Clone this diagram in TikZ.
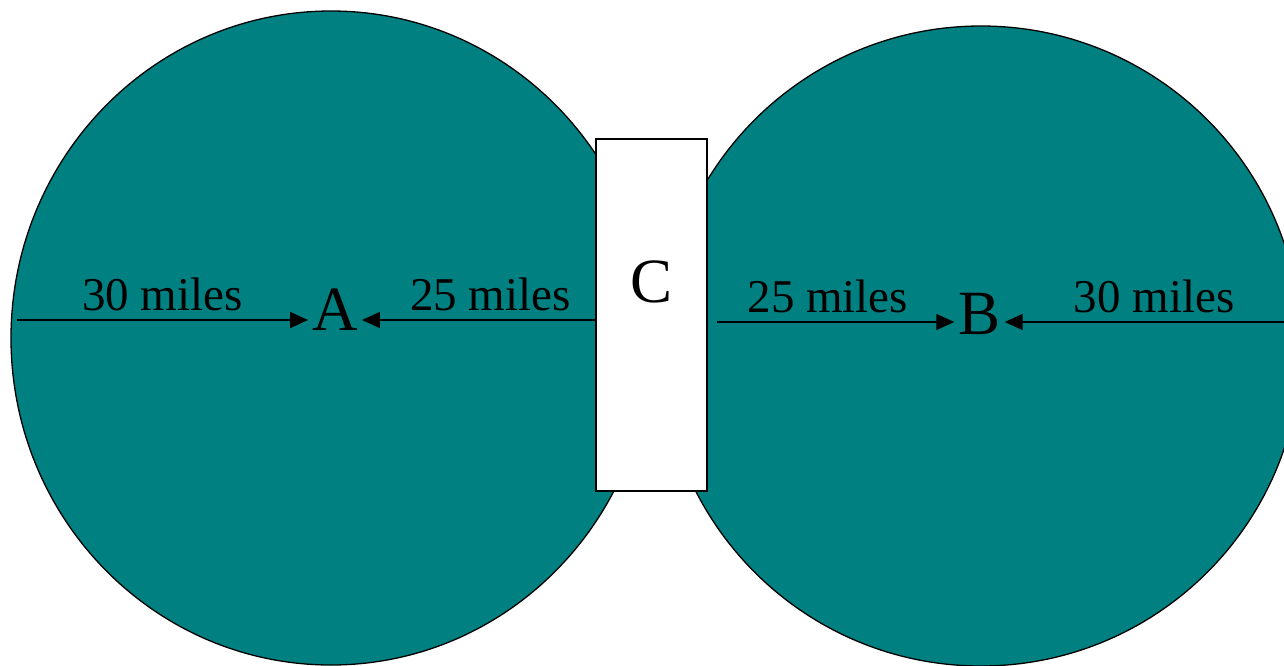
\documentclass[tikz,border=0pt]{standalone}
\usepackage{fontspec}
\setmainfont{Liberation Serif}
\usetikzlibrary{
    positioning,                      % above=of, etc.
    arrows.meta                       % puntas Triangle
}
\definecolor{zone_teal}{RGB}{0,128,128}
\tikzset{
    zone/.style={
        fill=zone_teal, draw=black, line width=1.3pt
    },
    hub/.style={
        rectangle, draw=black, fill=white, line width=1.3pt,
        minimum width=111pt, minimum height=352pt
    },
    town/.style={
        inner xsep=4pt, inner ysep=0pt,
        font=\fontsize{63}{63}\selectfont
    },
    dist/.style={
        -{Triangle[length=18pt,width=16pt]}, line width=1.4pt
    },
    miles/.style={
        font=\fontsize{47}{47}\selectfont, above=8pt, inner sep=0pt
    }
}

\begin{document}
\begin{tikzpicture}[x=1pt, y=-1pt]
    \useasboundingbox (0,0) rectangle (1284,665);

    % zonas de cobertura
    \draw[zone] (331,338) ellipse [x radius=320, y radius=327];
    \draw[zone] (981,346) circle [radius=320];

    % centro C
    \node[hub] (hubC) at (651.5,315) {};
    \node[town] (C) at (652,281.5) {C};

    % ciudades
    \node[town] (A) at (335,309.5) {A};
    \node[town] (B) at (979.5,313.5) {B};

    \coordinate (westA) at (17,320);
    \coordinate (westB) at (717,322);
    \coordinate (eastB) at (1284,322);

    % distancias hacia A
    \draw[dist] (westA) -- (westA -| A.west)
        node[miles, midway] {30 miles};
    \draw[dist] (westA -| hubC.west) -- (westA -| A.east)
        node[miles, pos=0.45] {25 miles};

    % distancias hacia B
    \draw[dist] (westB) -- (westB -| B.west)
        node[miles, pos=0.467] {25 miles};
    \draw[dist] (eastB) -- (eastB -| B.east)
        node[miles, pos=0.465] {30 miles};
\end{tikzpicture}
\end{document}
